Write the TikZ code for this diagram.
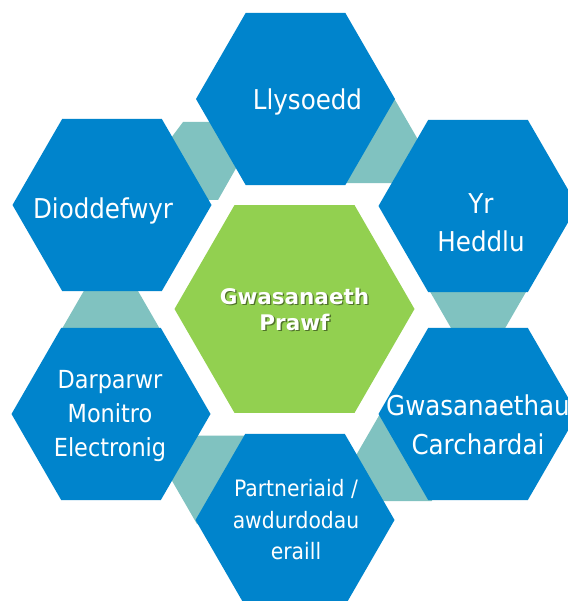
\documentclass[tikz,border=0pt]{standalone}
\usepackage{fontspec}
\newfontfamily\hexfont{DejaVu Sans Condensed}
\newfontfamily\cenfont{DejaVu Sans}
\usetikzlibrary{shapes.geometric}
\definecolor{cBlue}{RGB}{0,132,204}
\definecolor{cTeal}{RGB}{128,194,192}
\definecolor{cGreen}{RGB}{146,208,80}
\tikzset{
 hexa/.style={regular polygon, regular polygon sides=6, inner sep=0pt, outer sep=0pt, draw=none},
 bluehex/.style={hexa, fill=cBlue, minimum size=199pt},
 tealhex/.style={hexa, fill=cTeal, minimum size=102pt},
 greenhex/.style={hexa, fill=cGreen, minimum size=240pt},
 hextext/.style={text=white, align=center, inner sep=0pt, font=\hexfont\fontsize{27.3}{38.4}\selectfont},
 midtext/.style={align=center, inner sep=0pt, font=\cenfont\bfseries\fontsize{21.5}{26}\selectfont},
}
\begin{document}
\begin{tikzpicture}[x=1pt,y=-1pt]
\useasboundingbox (0,0) rectangle (567,601);
\fill[white] (0,0) rectangle (567,601);
% teal connectors (behind)
\node[tealhex] (t1) at (366.6,139) {};
\node[tealhex] (t2) at (478.1,286.6) {};
\node[tealhex] (t3) at (406.1,457) {};
\node[tealhex] (t4) at (222.5,479.9) {};
\node[tealhex] (t5) at (110.9,332.4) {};
\fill[cTeal] (168,142) -- (183,122) -- (245,122) -- (240.7,160) -- (218,200) -- (190,200) -- cycle;
% centre
\node[greenhex] (c) at (294.5,309) {};
% outer
\node[bluehex] (h1) at (295.5,99) {};
\node[bluehex] (h2) at (478,206) {};
\node[bluehex] (h3) at (478,414) {};
\node[bluehex] (h4) at (295,520) {};
\node[bluehex] (h5) at (111,414) {};
\node[bluehex] (h6) at (112,205) {};
% texts
\node[hextext, anchor=base] (l1) at (307.5,109.3) {Llysoedd};
\node[hextext] (l2) at (481,222.5) {Yr\\Heddlu};
\node[hextext] (l3) at (478,425) {Gwasanaethau\\Carchardai};
\node[hextext, font=\hexfont\fontsize{22.6}{31.5}\selectfont] (l4) at (296,520) {Partneriaid /\\awdurdodau\\eraill};
\node[hextext, font=\hexfont\fontsize{24.9}{34.2}\selectfont] (l5) at (110,416.3) {Darparwr\\Monitro\\Electronig};
\node[hextext, anchor=base] (l6) at (103,218.3) {Dioddefwyr};
\node[midtext, text=black, opacity=0.45] (ms) at (295.8,310.4) {Gwasanaeth\\Prawf};
\node[midtext, text=white] (m) at (294.5,309) {Gwasanaeth\\Prawf};
\end{tikzpicture}
\end{document}
